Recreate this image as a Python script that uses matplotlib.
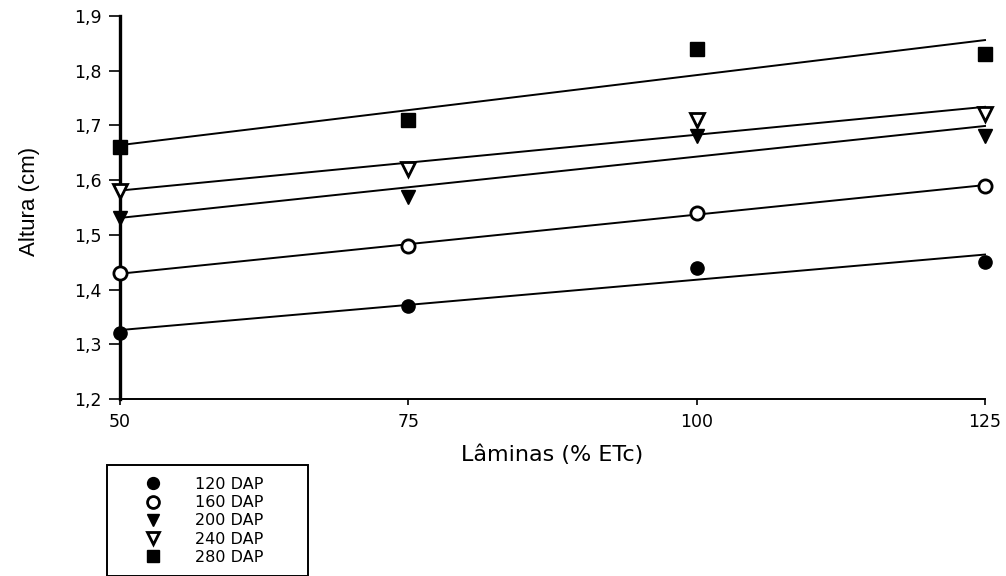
import numpy as np
import matplotlib
matplotlib.use("Agg")
import matplotlib.pyplot as plt
from matplotlib.ticker import FuncFormatter
from matplotlib.patches import Rectangle

plt.rcParams['font.family'] = ['DejaVu Sans']

laminas = [50, 75, 100, 125]
series_labels = ["120 DAP", "160 DAP", "200 DAP", "240 DAP", "280 DAP"]
dap120 = [1.32, 1.37, 1.44, 1.45]
dap160 = [1.43, 1.48, 1.54, 1.59]
dap200 = [1.53, 1.57, 1.68, 1.68]
dap240 = [1.58, 1.62, 1.71, 1.72]
dap280 = [1.66, 1.71, 1.84, 1.83]
yticks = [1.2, 1.3, 1.4, 1.5, 1.6, 1.7, 1.8, 1.9]

series = [dap120, dap160, dap200, dap240, dap280]
styles = [
    dict(marker='o', mfc='black', mec='black'),
    dict(marker='o', mfc='white', mec='black', mew=2.0),
    dict(marker='v', mfc='black', mec='black'),
    dict(marker='v', mfc='white', mec='black', mew=2.0),
    dict(marker='s', mfc='black', mec='black'),
]

W, H = 1006, 576
fig = plt.figure(figsize=(W / 100, H / 100), dpi=100)
ax = fig.add_axes([120 / W, 1 - 399 / H, (985 - 120) / W, (399 - 16) / H])

x = np.array(laminas, dtype=float)
handles = []
for ys, st, lab in zip(series, styles, series_labels):
    y = np.array(ys)
    b, a = np.polyfit(x, y, 1)
    ax.plot(x[[0, -1]], a + b * x[[0, -1]], color='black', lw=1.4, clip_on=False, zorder=2)
    h, = ax.plot(x, y, linestyle='none', markersize=9.5, clip_on=False, zorder=3, label=lab, **st)
    handles.append(h)

ax.set_xlim(50, 125)
ax.set_ylim(1.2, 1.9)
ax.set_xticks(laminas)
ax.set_yticks(yticks)
ax.yaxis.set_major_formatter(FuncFormatter(lambda v, p: f"{v:.1f}".replace('.', ',')))
for s in ['top', 'right']:
    ax.spines[s].set_visible(False)
ax.spines['left'].set_linewidth(2.4)
ax.spines['bottom'].set_linewidth(1.4)
ax.tick_params(axis='both', direction='out', width=1.2, labelsize=12.5, colors='black')
ax.tick_params(axis='y', length=8, pad=5)
ax.tick_params(axis='x', length=4, pad=6)
ax.set_xlabel("Lâminas (% ETc)", fontsize=16)
ax.xaxis.set_label_coords(0.5, -0.118)
ax.set_ylabel("Altura (cm)", fontsize=16, family=['Liberation Sans', 'DejaVu Sans'])
ax.yaxis.set_label_coords(-0.092, 0.515)

fig.patches.append(Rectangle((107 / W, 0), (308 - 107) / W, (576 - 465) / H,
                             transform=fig.transFigure, fill=False, ec='black', lw=1.4))
leg = fig.legend(handles=handles, loc='upper left', bbox_to_anchor=(133 / W, 1 - 469 / H),
                 frameon=False, fontsize=11.5, handlelength=1.5, handletextpad=1.9,
                 labelspacing=0.2, borderpad=0, markerscale=0.9)

fig.savefig("out.png", dpi=100)
